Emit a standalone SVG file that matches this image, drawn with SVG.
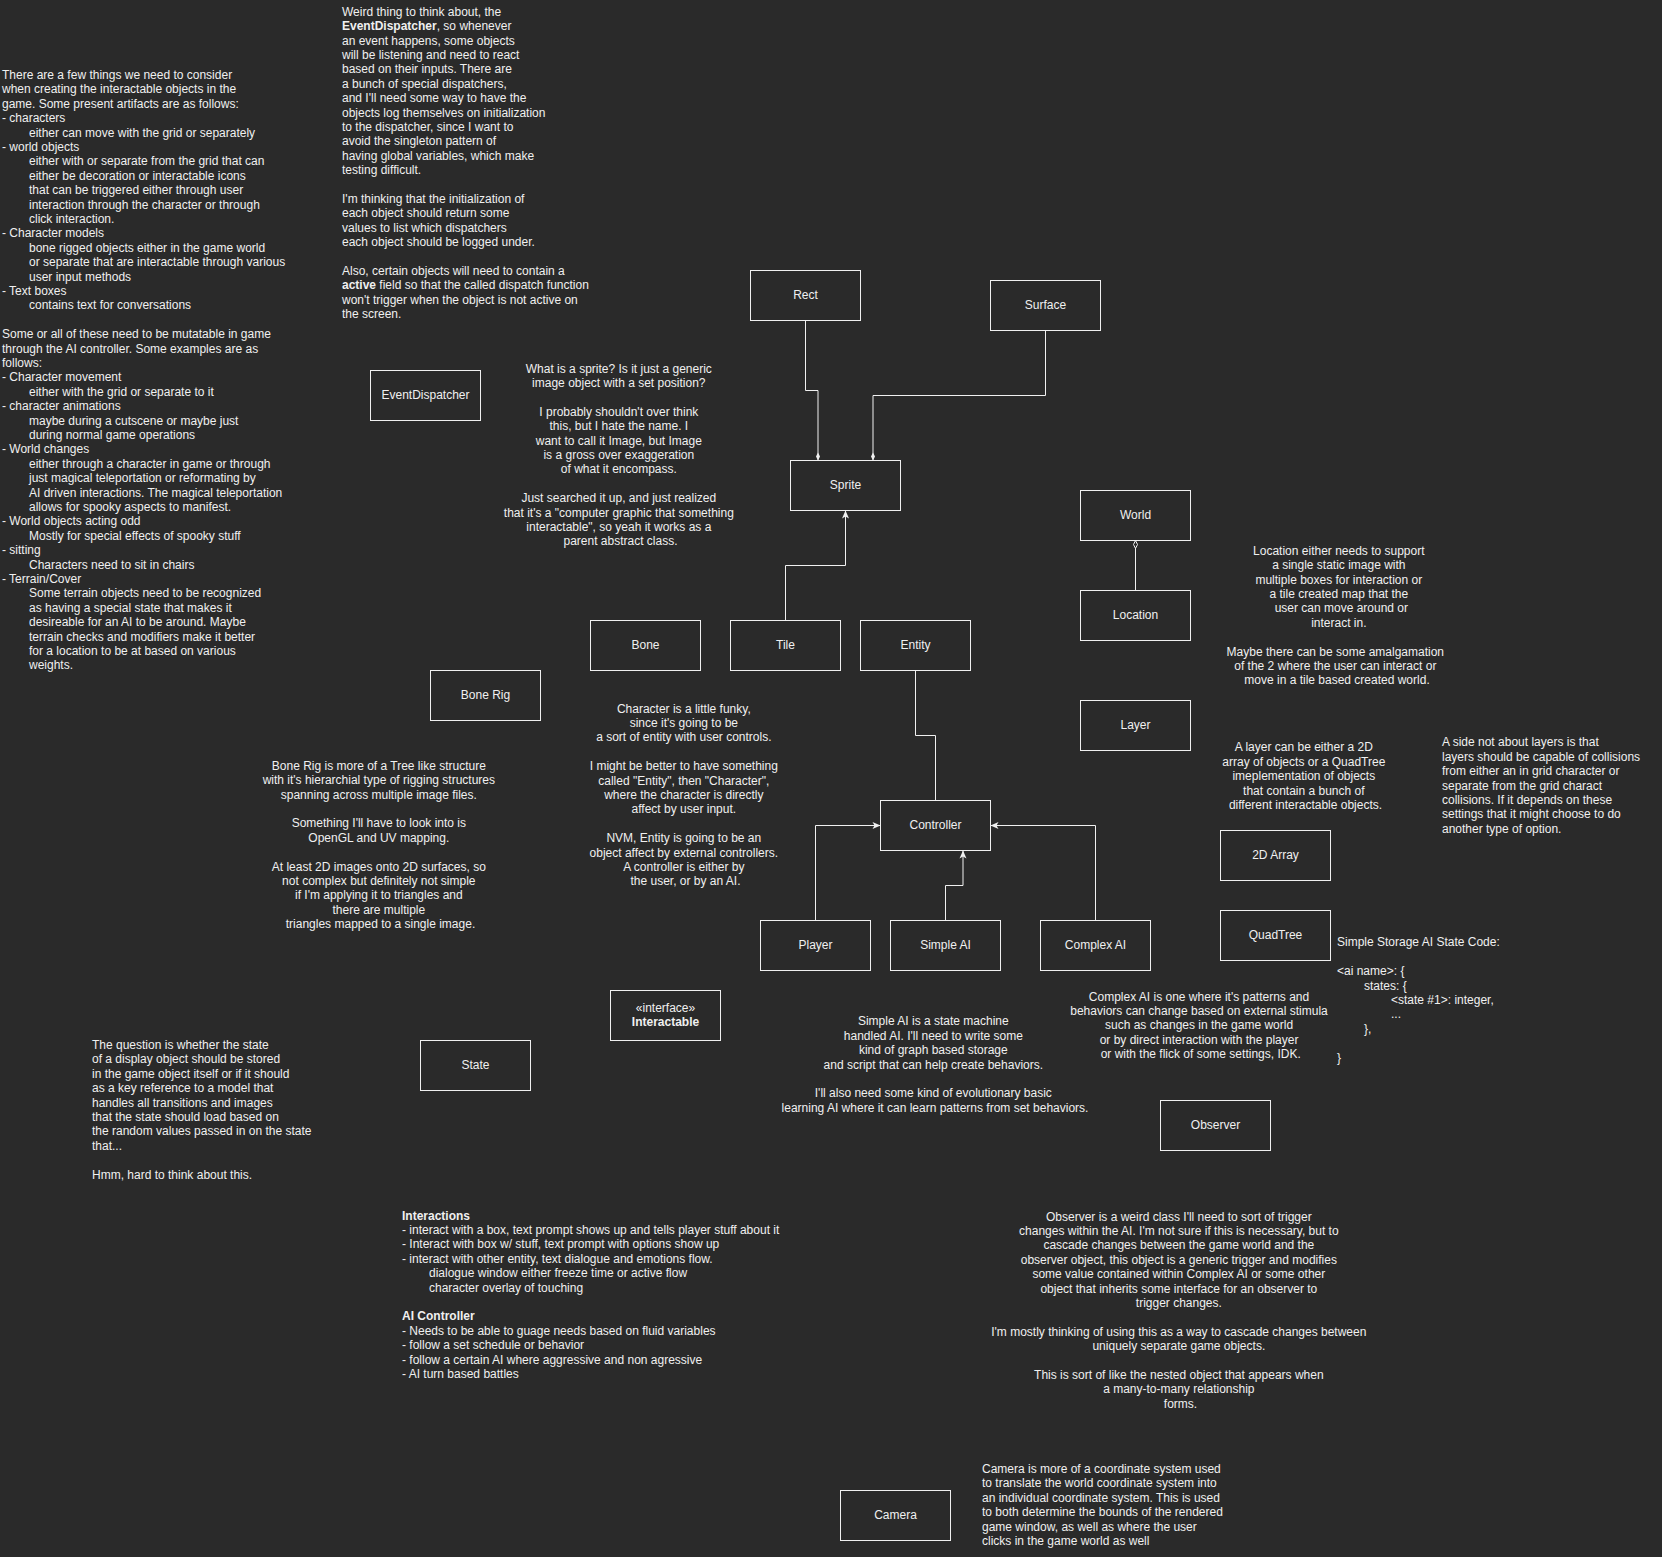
<svg xmlns="http://www.w3.org/2000/svg" width="1662" height="1557" viewBox="0 0 1662 1557">
<style>
text{font-family:"Liberation Sans",Arial,Helvetica,sans-serif;font-size:12px;fill:#f0f0f0}
.c{text-anchor:middle}
.b{font-weight:bold}
.box{fill:#2a2a2a;stroke:#f0f0f0;stroke-width:1}
.edge{fill:none;stroke:#f0f0f0;stroke-width:1}
</style>
<defs>
<marker id="arrow" viewBox="-9 -5 10 10" refX="0" refY="0" markerWidth="10" markerHeight="10" orient="auto" markerUnits="userSpaceOnUse"><path d="M0,0 L-8,-3.5 L-6,0 L-8,3.5 Z" fill="#f0f0f0"/></marker>
<marker id="diamond" viewBox="-9 -3 10 6" refX="0" refY="0" markerWidth="10" markerHeight="6" orient="auto" markerUnits="userSpaceOnUse"><path d="M0,0 L-4,-2 L-8,0 L-4,2 Z" fill="#f0f0f0"/></marker>
<marker id="odiamond" viewBox="-9 -3 10 6" refX="0" refY="0" markerWidth="10" markerHeight="6" orient="auto" markerUnits="userSpaceOnUse"><path d="M0,0 L-4,-2 L-8,0 L-4,2 Z" fill="#2a2a2a" stroke="#f0f0f0" stroke-width="1"/></marker>
</defs>
<rect x="0" y="0" width="1662" height="1557" fill="#2a2a2a"/>

<g id="connectors" transform="translate(0.5,0.5)">
<path class="edge" d="M805,320 L805,390 L817.5,390 L817.5,460" marker-end="url(#diamond)"/>
<path class="edge" d="M1045,330 L1045,395 L872.5,395 L872.5,460" marker-end="url(#diamond)"/>
<path class="edge" d="M785,620 L785,565 L845,565 L845,510" marker-end="url(#arrow)"/>
<path class="edge" d="M915,670 L915,735 L935,735 L935,800"/>
<path class="edge" d="M815,920 L815,825 L880,825" marker-end="url(#arrow)"/>
<path class="edge" d="M945,920 L945,885 L962.5,885 L962.5,850" marker-end="url(#arrow)"/>
<path class="edge" d="M1095,920 L1095,825 L990,825" marker-end="url(#arrow)"/>
<path class="edge" d="M1135,590 L1135,540" marker-end="url(#odiamond)"/>
</g>

<g id="node-rect"><rect class="box" x="750.5" y="270.5" width="110" height="50"/><text class="c" x="805.5" y="299.2">Rect</text></g>
<g id="node-surface"><rect class="box" x="990.5" y="280.5" width="110" height="50"/><text class="c" x="1045.5" y="309.2">Surface</text></g>
<g id="node-sprite"><rect class="box" x="790.5" y="460.5" width="110" height="50"/><text class="c" x="845.5" y="489.2">Sprite</text></g>
<g id="node-eventdispatcher"><rect class="box" x="370.5" y="370.5" width="110" height="50"/><text class="c" x="425.5" y="399.2">EventDispatcher</text></g>
<g id="node-bone"><rect class="box" x="590.5" y="620.5" width="110" height="50"/><text class="c" x="645.5" y="649.2">Bone</text></g>
<g id="node-tile"><rect class="box" x="730.5" y="620.5" width="110" height="50"/><text class="c" x="785.5" y="649.2">Tile</text></g>
<g id="node-entity"><rect class="box" x="860.5" y="620.5" width="110" height="50"/><text class="c" x="915.5" y="649.2">Entity</text></g>
<g id="node-world"><rect class="box" x="1080.5" y="490.5" width="110" height="50"/><text class="c" x="1135.5" y="519.2">World</text></g>
<g id="node-location"><rect class="box" x="1080.5" y="590.5" width="110" height="50"/><text class="c" x="1135.5" y="619.2">Location</text></g>
<g id="node-layer"><rect class="box" x="1080.5" y="700.5" width="110" height="50"/><text class="c" x="1135.5" y="729.2">Layer</text></g>
<g id="node-bonerig"><rect class="box" x="430.5" y="670.5" width="110" height="50"/><text class="c" x="485.5" y="699.2">Bone Rig</text></g>
<g id="node-controller"><rect class="box" x="880.5" y="800.5" width="110" height="50"/><text class="c" x="935.5" y="829.2">Controller</text></g>
<g id="node-player"><rect class="box" x="760.5" y="920.5" width="110" height="50"/><text class="c" x="815.5" y="949.2">Player</text></g>
<g id="node-simpleai"><rect class="box" x="890.5" y="920.5" width="110" height="50"/><text class="c" x="945.5" y="949.2">Simple AI</text></g>
<g id="node-complexai"><rect class="box" x="1040.5" y="920.5" width="110" height="50"/><text class="c" x="1095.5" y="949.2">Complex AI</text></g>
<g id="node-2darray"><rect class="box" x="1220.5" y="830.5" width="110" height="50"/><text class="c" x="1275.5" y="859.2">2D Array</text></g>
<g id="node-quadtree"><rect class="box" x="1220.5" y="910.5" width="110" height="50"/><text class="c" x="1275.5" y="939.2">QuadTree</text></g>
<g id="node-interactable"><rect class="box" x="610.5" y="990.5" width="110" height="50"/><text class="c" x="665.5" y="1012.2">«interface»</text><text class="c b" x="665.5" y="1026.4">Interactable</text></g>
<g id="node-state"><rect class="box" x="420.5" y="1040.5" width="110" height="50"/><text class="c" x="475.5" y="1069.2">State</text></g>
<g id="node-observer"><rect class="box" x="1160.5" y="1100.5" width="110" height="50"/><text class="c" x="1215.5" y="1129.2">Observer</text></g>
<g id="node-camera"><rect class="box" x="840.5" y="1490.5" width="110" height="50"/><text class="c" x="895.5" y="1519.2">Camera</text></g>

<g id="note-artifacts">
<text>
<tspan x="2" y="79">There are a few things we need to consider</tspan>
<tspan x="2" y="93.4">when creating the interactable objects in the</tspan>
<tspan x="2" y="107.8">game. Some present artifacts are as follows:</tspan>
<tspan x="2" y="122.2">- characters</tspan>
<tspan x="29" y="136.6">either can move with the grid or separately</tspan>
<tspan x="2" y="151">- world objects</tspan>
<tspan x="29" y="165.4">either with or separate from the grid that can</tspan>
<tspan x="29" y="179.8">either be decoration or interactable icons</tspan>
<tspan x="29" y="194.2">that can be triggered either through user</tspan>
<tspan x="29" y="208.6">interaction through the character or through</tspan>
<tspan x="29" y="223">click interaction.</tspan>
<tspan x="2" y="237.4">- Character models</tspan>
<tspan x="29" y="251.8">bone rigged objects either in the game world</tspan>
<tspan x="29" y="266.2">or separate that are interactable through various</tspan>
<tspan x="29" y="280.6">user input methods</tspan>
<tspan x="2" y="295">- Text boxes</tspan>
<tspan x="29" y="309.4">contains text for conversations</tspan>
<tspan x="2" y="338.2">Some or all of these need to be mutatable in game</tspan>
<tspan x="2" y="352.6">through the AI controller. Some examples are as</tspan>
<tspan x="2" y="367">follows:</tspan>
<tspan x="2" y="381.4">- Character movement</tspan>
<tspan x="29" y="395.8">either with the grid or separate to it</tspan>
<tspan x="2" y="410.2">- character animations</tspan>
<tspan x="29" y="424.6">maybe during a cutscene or maybe just</tspan>
<tspan x="29" y="439">during normal game operations</tspan>
<tspan x="2" y="453.4">- World changes</tspan>
<tspan x="29" y="467.8">either through a character in game or through</tspan>
<tspan x="29" y="482.2">just magical teleportation or reformating by</tspan>
<tspan x="29" y="496.6">AI driven interactions. The magical teleportation</tspan>
<tspan x="29" y="511">allows for spooky aspects to manifest.</tspan>
<tspan x="2" y="525.4">- World objects acting odd</tspan>
<tspan x="29" y="539.8">Mostly for special effects of spooky stuff</tspan>
<tspan x="2" y="554.2">- sitting</tspan>
<tspan x="29" y="568.6">Characters need to sit in chairs</tspan>
<tspan x="2" y="583">- Terrain/Cover</tspan>
<tspan x="29" y="597.4">Some terrain objects need to be recognized</tspan>
<tspan x="29" y="611.8">as having a special state that makes it</tspan>
<tspan x="29" y="626.2">desireable for an AI to be around. Maybe</tspan>
<tspan x="29" y="640.6">terrain checks and modifiers make it better</tspan>
<tspan x="29" y="655">for a location to be at based on various</tspan>
<tspan x="29" y="669.4">weights.</tspan>
</text>
</g>

<g id="note-dispatcher">
<text>
<tspan x="342" y="15.7">Weird thing to think about, the</tspan>
<tspan x="342" y="30.1"><tspan class="b">EventDispatcher</tspan>, so whenever</tspan>
<tspan x="342" y="44.5">an event happens, some objects</tspan>
<tspan x="342" y="58.9">will be listening and need to react</tspan>
<tspan x="342" y="73.3">based on their inputs. There are</tspan>
<tspan x="342" y="87.7">a bunch of special dispatchers,</tspan>
<tspan x="342" y="102.1">and I'll need some way to have the</tspan>
<tspan x="342" y="116.5">objects log themselves on initialization</tspan>
<tspan x="342" y="130.9">to the dispatcher, since I want to</tspan>
<tspan x="342" y="145.3">avoid the singleton pattern of</tspan>
<tspan x="342" y="159.7">having global variables, which make</tspan>
<tspan x="342" y="174.1">testing difficult.</tspan>
<tspan x="342" y="202.9">I'm thinking that the initialization of</tspan>
<tspan x="342" y="217.3">each object should return some</tspan>
<tspan x="342" y="231.7">values to list which dispatchers</tspan>
<tspan x="342" y="246.1">each object should be logged under.</tspan>
<tspan x="342" y="274.9">Also, certain objects will need to contain a</tspan>
<tspan x="342" y="289.3"><tspan class="b">active</tspan> field so that the called dispatch function</tspan>
<tspan x="342" y="303.7">won't trigger when the object is not active on</tspan>
<tspan x="342" y="318.1">the screen.</tspan>
</text>
</g>

<g id="note-sprite">
<text class="c">
<tspan x="620.5" y="372.5">What is a sprite? Is it just a generic</tspan>
<tspan x="620.5" y="386.9">image object with a set position?</tspan>
<tspan x="620.5" y="415.7">I probably shouldn't over think</tspan>
<tspan x="620.5" y="430.1">this, but I hate the name. I</tspan>
<tspan x="620.5" y="444.5">want to call it Image, but Image</tspan>
<tspan x="620.5" y="458.9">is a gross over exaggeration</tspan>
<tspan x="620.5" y="473.3">of what it encompass.</tspan>
<tspan x="620.5" y="502.1">Just searched it up, and just realized</tspan>
<tspan x="620.5" y="516.5">that it's a "computer graphic that something</tspan>
<tspan x="620.5" y="530.9">interactable", so yeah it works as a</tspan>
<tspan x="620.5" y="545.3">parent abstract class.</tspan>
</text>
</g>

<g id="note-bonerig">
<text class="c">
<tspan x="380.5" y="769.8">Bone Rig is more of a Tree like structure</tspan>
<tspan x="380.5" y="784.2">with it's hierarchial type of rigging structures</tspan>
<tspan x="380.5" y="798.6">spanning across multiple image files.</tspan>
<tspan x="380.5" y="827.4">Something I'll have to look into is</tspan>
<tspan x="380.5" y="841.8">OpenGL and UV mapping.</tspan>
<tspan x="380.5" y="870.6">At least 2D images onto 2D surfaces, so</tspan>
<tspan x="380.5" y="885">not complex but definitely not simple</tspan>
<tspan x="380.5" y="899.4">if I'm applying it to triangles and</tspan>
<tspan x="380.5" y="913.8">there are multiple</tspan>
<tspan x="380.5" y="928.2">triangles mapped to a single image.</tspan>
</text>
</g>

<g id="note-character">
<text class="c">
<tspan x="685.5" y="712.5">Character is a little funky,</tspan>
<tspan x="685.5" y="726.9">since it's going to be</tspan>
<tspan x="685.5" y="741.3">a sort of entity with user controls.</tspan>
<tspan x="685.5" y="770.1">I might be better to have something</tspan>
<tspan x="685.5" y="784.5">called "Entity", then "Character",</tspan>
<tspan x="685.5" y="798.9">where the character is directly</tspan>
<tspan x="685.5" y="813.3">affect by user input.</tspan>
<tspan x="685.5" y="842.1">NVM, Entity is going to be an</tspan>
<tspan x="685.5" y="856.5">object affect by external controllers.</tspan>
<tspan x="685.5" y="870.9">A controller is either by</tspan>
<tspan x="685.5" y="885.3">the user, or by an AI.</tspan>
</text>
</g>

<g id="note-location">
<text class="c">
<tspan x="1340.5" y="554.7">Location either needs to support</tspan>
<tspan x="1340.5" y="569.1">a single static image with</tspan>
<tspan x="1340.5" y="583.5">multiple boxes for interaction or</tspan>
<tspan x="1340.5" y="597.9">a tile created map that the</tspan>
<tspan x="1343" y="612.3">user can move around or</tspan>
<tspan x="1340.5" y="626.7">interact in.</tspan>
<tspan x="1337" y="655.5">Maybe there can be some amalgamation</tspan>
<tspan x="1337" y="669.9">of the 2 where the user can interact or</tspan>
<tspan x="1337" y="684.3">move in a tile based created world.</tspan>
</text>
</g>

<g id="note-layer">
<text class="c">
<tspan x="1305.5" y="751.3">A layer can be either a 2D</tspan>
<tspan x="1305.5" y="765.7">array of objects or a QuadTree</tspan>
<tspan x="1305.5" y="780.1">imeplementation of objects</tspan>
<tspan x="1305.5" y="794.5">that contain a bunch of</tspan>
<tspan x="1305.5" y="808.9">different interactable objects.</tspan>
</text>
</g>

<g id="note-layers-side">
<text>
<tspan x="1442" y="746.3">A side not about layers is that</tspan>
<tspan x="1442" y="760.7">layers should be capable of collisions</tspan>
<tspan x="1442" y="775.1">from either an in grid character or</tspan>
<tspan x="1442" y="789.5">separate from the grid charact</tspan>
<tspan x="1442" y="803.9">collisions. If it depends on these</tspan>
<tspan x="1442" y="818.3">settings that it might choose to do</tspan>
<tspan x="1442" y="832.7">another type of option.</tspan>
</text>
</g>

<g id="note-state-code">
<text>
<tspan x="1337" y="946.3">Simple Storage AI State Code:</tspan>
<tspan x="1337" y="975.1">&lt;ai name&gt;: {</tspan>
<tspan x="1364" y="989.5">states: {</tspan>
<tspan x="1391" y="1003.9">&lt;state #1&gt;: integer,</tspan>
<tspan x="1391" y="1018.3">...</tspan>
<tspan x="1364" y="1032.7">},</tspan>
<tspan x="1337" y="1061.5">}</tspan>
</text>
</g>

<g id="note-complexai">
<text class="c">
<tspan x="1200.7" y="1000.5">Complex AI is one where it's patterns and</tspan>
<tspan x="1200.7" y="1014.9">behaviors can change based on external stimula</tspan>
<tspan x="1200.7" y="1029.3">such as changes in the game world</tspan>
<tspan x="1200.7" y="1043.7">or by direct interaction with the player</tspan>
<tspan x="1200.7" y="1058.1">or with the flick of some settings, IDK.</tspan>
</text>
</g>

<g id="note-simpleai">
<text class="c">
<tspan x="935" y="1025.3">Simple AI is a state machine</tspan>
<tspan x="935" y="1039.7">handled AI. I'll need to write some</tspan>
<tspan x="935" y="1054.1">kind of graph based storage</tspan>
<tspan x="935" y="1068.5">and script that can help create behaviors.</tspan>
<tspan x="935" y="1097.3">I'll also need some kind of evolutionary basic</tspan>
<tspan x="935" y="1111.7">learning AI where it can learn patterns from set behaviors.</tspan>
</text>
</g>

<g id="note-state">
<text>
<tspan x="92" y="1048.9">The question is whether the state</tspan>
<tspan x="92" y="1063.3">of a display object should be stored</tspan>
<tspan x="92" y="1077.7">in the game object itself or if it should</tspan>
<tspan x="92" y="1092.1">as a key reference to a model that</tspan>
<tspan x="92" y="1106.5">handles all transitions and images</tspan>
<tspan x="92" y="1120.9">that the state should load based on</tspan>
<tspan x="92" y="1135.3">the random values passed in on the state</tspan>
<tspan x="92" y="1149.7">that...</tspan>
<tspan x="92" y="1178.5">Hmm, hard to think about this.</tspan>
</text>
</g>

<g id="note-interactions">
<text>
<tspan x="402" y="1219.6" class="b">Interactions</tspan>
<tspan x="402" y="1234">- interact with a box, text prompt shows up and tells player stuff about it</tspan>
<tspan x="402" y="1248.4">- Interact with box w/ stuff, text prompt with options show up</tspan>
<tspan x="402" y="1262.8">- interact with other entity, text dialogue and emotions flow.</tspan>
<tspan x="429" y="1277.2">dialogue window either freeze time or active flow</tspan>
<tspan x="429" y="1291.6">character overlay of touching</tspan>
<tspan x="402" y="1320.4" class="b">AI Controller</tspan>
<tspan x="402" y="1334.8">- Needs to be able to guage needs based on fluid variables</tspan>
<tspan x="402" y="1349.2">- follow a set schedule or behavior</tspan>
<tspan x="402" y="1363.6">- follow a certain AI where aggressive and non agressive</tspan>
<tspan x="402" y="1378">- AI turn based battles</tspan>
</text>
</g>

<g id="note-observer">
<text class="c">
<tspan x="1180.5" y="1220.5">Observer is a weird class I'll need to sort of trigger</tspan>
<tspan x="1180.5" y="1234.9">changes within the AI. I'm not sure if this is necessary, but to</tspan>
<tspan x="1180.5" y="1249.3">cascade changes between the game world and the</tspan>
<tspan x="1180.5" y="1263.7">observer object, this object is a generic trigger and modifies</tspan>
<tspan x="1180.5" y="1278.1">some value contained within Complex AI or some other</tspan>
<tspan x="1180.5" y="1292.5">object that inherits some interface for an observer to</tspan>
<tspan x="1180.5" y="1306.9">trigger changes.</tspan>
<tspan x="1180.5" y="1335.7">I'm mostly thinking of using this as a way to cascade changes between</tspan>
<tspan x="1180.5" y="1350.1">uniquely separate game objects.</tspan>
<tspan x="1180.5" y="1378.9">This is sort of like the nested object that appears when</tspan>
<tspan x="1180.5" y="1393.3">a many-to-many relationship</tspan>
<tspan x="1180.5" y="1407.7">forms.</tspan>
</text>
</g>

<g id="note-camera">
<text>
<tspan x="982" y="1473">Camera is more of a coordinate system used</tspan>
<tspan x="982" y="1487.4">to translate the world coordinate system into</tspan>
<tspan x="982" y="1501.8">an individual coordinate system. This is used</tspan>
<tspan x="982" y="1516.2">to both determine the bounds of the rendered</tspan>
<tspan x="982" y="1530.6">game window, as well as where the user</tspan>
<tspan x="982" y="1545">clicks in the game world as well</tspan>
</text>
</g>
</svg>
